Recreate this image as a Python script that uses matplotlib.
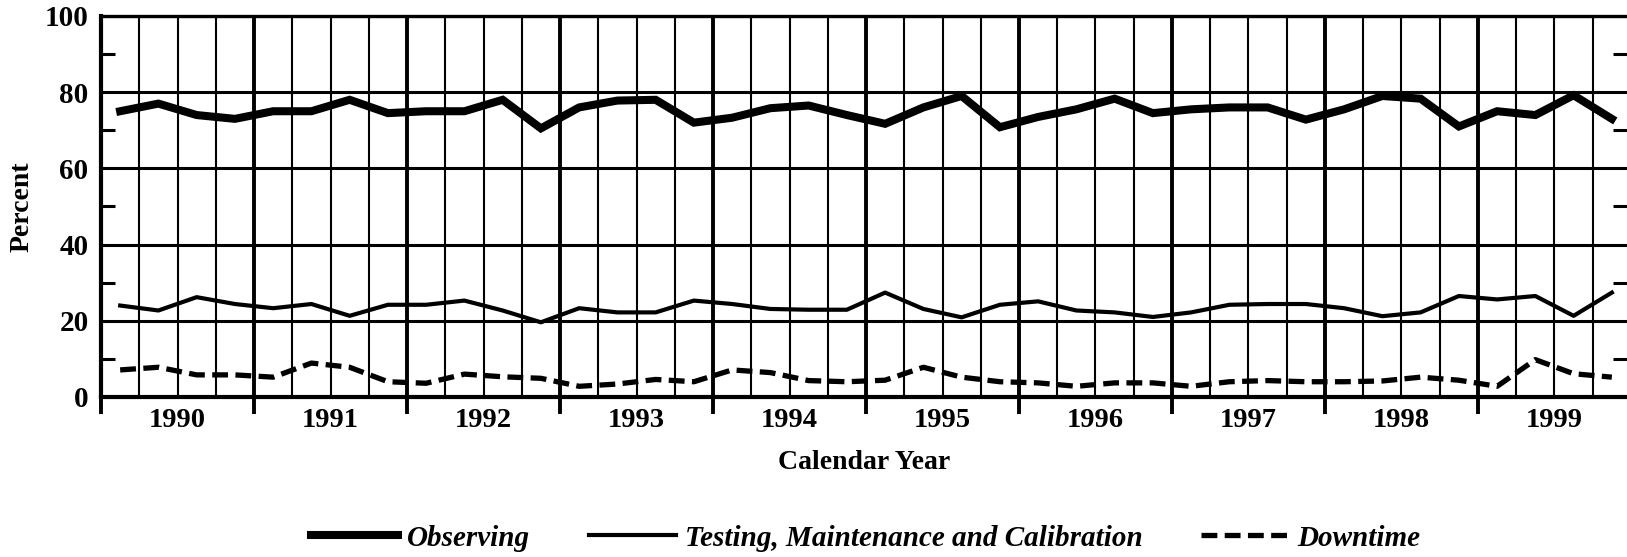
import numpy as np
import matplotlib
matplotlib.use("Agg")
import matplotlib.pyplot as plt
from matplotlib.ticker import FixedLocator, FixedFormatter

plt.rcParams['font.family'] = ['Liberation Serif', 'DejaVu Serif']

# calendar years shown, each split into four quarters
years = list(range(1990, 2000))

# quarterly values, percent
observing = [75, 77, 74, 73, 75, 75, 78, 74.5, 75, 75, 78, 70.5,
             76, 77.8, 78, 72, 73.3, 75.8, 76.5, 74, 71.7, 76, 79, 70.8,
             73.5, 75.5, 78.3, 74.5, 75.5, 76, 76, 72.8, 75.5, 79, 78.3, 71,
             75, 74, 79.2, 73]
testing = [24, 22.7, 26.2, 24.4, 23.3, 24.4, 21.3, 24.2, 24.2, 25.3, 22.7, 19.6,
           23.3, 22.2, 22.2, 25.3, 24.4, 23.1, 22.9, 22.9, 27.4, 23.1, 20.9, 24.2,
           25.1, 22.7, 22.2, 21, 22.2, 24.2, 24.4, 24.4, 23.3, 21.2, 22.2, 26.5,
           25.6, 26.5, 21.3, 27.4]
downtime = [7.1, 7.8, 5.8, 5.8, 5.2, 8.9, 7.8, 4, 3.6, 6, 5.3, 4.9,
            2.8, 3.4, 4.6, 4, 7.1, 6.4, 4.3, 4, 4.4, 7.8, 5.2, 4,
            3.7, 2.8, 3.7, 3.7, 2.8, 4, 4.3, 4, 4, 4.2, 5.2, 4.4,
            2.8, 9.8, 6.1, 5.2]

# x position: year label sits at the middle of its year, points at quarter middles
start = years[0] - 0.5
x = start + 0.125 + 0.25 * np.arange(len(observing))
year_edges = [y - 0.5 for y in years]
quarter_edges = [start + 0.25 * i for i in range(len(years) * 4) if i % 4 != 0]
quarter_labels = [str(years[i // 4]) if i % 4 == 2 else '' for i in range(len(years) * 4) if i % 4 != 0]

fig = plt.figure(figsize=(16.27, 5.57), dpi=100)
ax = fig.add_axes([0.0621, 0.2873, 0.9379, 0.684])

l1, = ax.plot(x, observing, color='black', lw=5.8, solid_joinstyle='miter', zorder=3)
l2, = ax.plot(x, testing, color='black', lw=3.0, zorder=3)
l3, = ax.plot(x, downtime, color='black', lw=3.8, dashes=(3, 1.4), zorder=3)

ax.set_xlim(start, start + 9.974)
ax.set_ylim(0, 100)

ax.xaxis.set_major_locator(FixedLocator(year_edges))
ax.xaxis.set_major_formatter(FixedFormatter([''] * len(year_edges)))
ax.xaxis.set_minor_locator(FixedLocator(quarter_edges))
ax.xaxis.set_minor_formatter(FixedFormatter(quarter_labels))
ax.tick_params(axis='x', which='major', direction='out', length=12, width=2.8, color='black')
ax.tick_params(axis='x', which='minor', length=0, pad=8, labelsize=20.5)

ax.set_yticks(np.arange(0, 101, 20))
ax.set_yticks(np.arange(10, 100, 20), minor=True)
ax.tick_params(axis='y', which='major', length=0, pad=9, labelsize=21)
ax.tick_params(axis='y', which='minor', direction='in', left=True, right=True,
               length=10, width=2.2, color='black')

for lab in ax.get_xticklabels(minor=True) + ax.get_yticklabels():
    lab.set_fontweight('bold')

ax.xaxis.grid(True, which='major', color='black', lw=2.8)
ax.xaxis.grid(True, which='minor', color='black', lw=1.5)
ax.yaxis.grid(True, which='major', color='black', lw=2.2)
ax.set_axisbelow(True)

for side in ['left', 'bottom']:
    ax.spines[side].set_linewidth(3)
ax.spines['top'].set_linewidth(2.4)
ax.spines['right'].set_visible(False)

ax.set_ylabel('Percent', fontsize=20, fontweight='bold', labelpad=7)
ax.set_xlabel('Calendar Year', fontsize=20, fontweight='bold', labelpad=12)

fig.legend([l1, l2, l3], ['Observing', 'Testing, Maintenance and Calibration', 'Downtime'],
           loc='center', bbox_to_anchor=(0.532, 0.034), ncol=3, frameon=False,
           handlelength=3.0, handletextpad=0.3, columnspacing=2.0,
           prop={'family': 'Liberation Serif', 'size': 21, 'weight': 'bold', 'style': 'italic'})

fig.savefig('out.png', dpi=100)
